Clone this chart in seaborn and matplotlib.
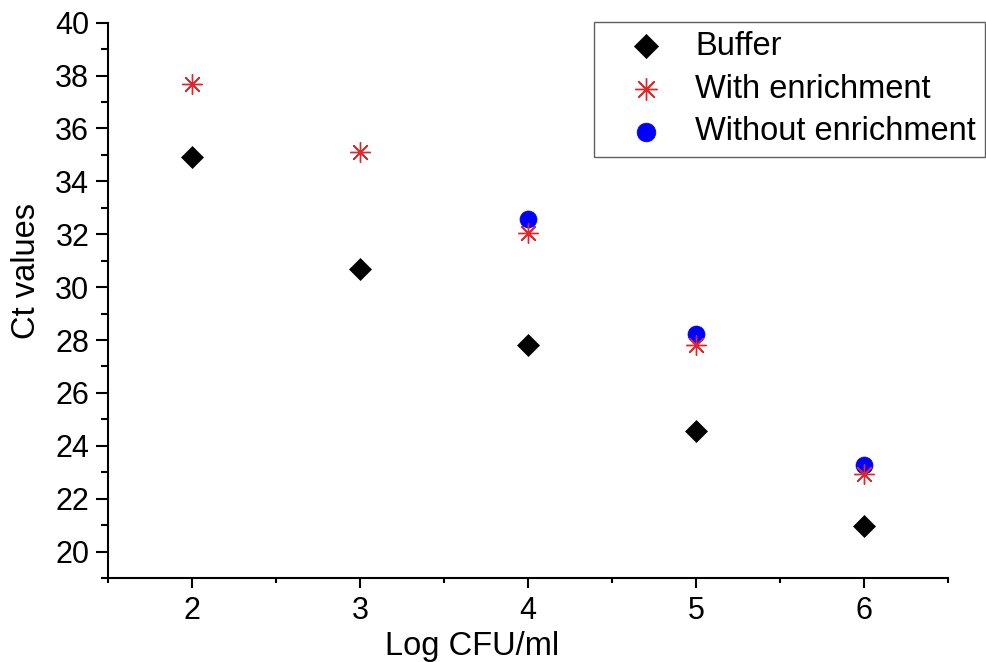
import matplotlib
matplotlib.use("Agg")
import matplotlib.pyplot as plt
from matplotlib.ticker import MultipleLocator
import seaborn as sns
import pandas as pd

# Ct values against bacterial load
log_cfu = [2, 3, 4, 5, 6]
buffer_ct = [34.93, 30.67, 27.83, 24.55, 20.97]
with_enrich_log_cfu = [2, 3, 4, 5, 6]
with_enrich_ct = [37.7, 35.1, 32.03, 27.83, 22.95]
without_enrich_log_cfu = [4, 5, 6]
without_enrich_ct = [32.58, 28.21, 23.28]

sns.set_theme(style="ticks")
plt.rcParams["font.family"] = ["Liberation Sans", "DejaVu Sans"]
plt.rcParams["text.color"] = "black"
plt.rcParams["axes.labelcolor"] = "black"

fig = plt.figure(figsize=(9.87, 6.62), dpi=100)
ax = fig.add_axes([0.1094, 0.1269, 0.8511, 0.8388])

df_buf = pd.DataFrame({"x": log_cfu, "y": buffer_ct})
df_with = pd.DataFrame({"x": with_enrich_log_cfu, "y": with_enrich_ct})
df_without = pd.DataFrame({"x": without_enrich_log_cfu, "y": without_enrich_ct})

sns.scatterplot(data=df_buf, x="x", y="y", ax=ax, marker="D", color="black",
                s=125, edgecolor="black", linewidth=0.5, label="Buffer", zorder=3)
sns.scatterplot(data=df_without, x="x", y="y", ax=ax, marker="o", color="#0000ff",
                s=150, edgecolor="#0000ff", linewidth=0.5, label="Without enrichment", zorder=3)
sns.scatterplot(data=df_with, x="x", y="y", ax=ax, marker=(8, 2, 0), color="#e0262a",
                s=200, linewidth=1.0, label="With enrichment", zorder=4)

ax.set_xlim(1.5, 6.5)
ax.set_ylim(19, 40)
ax.xaxis.set_major_locator(MultipleLocator(1))
ax.xaxis.set_minor_locator(MultipleLocator(0.5))
ax.yaxis.set_major_locator(MultipleLocator(2))
ax.yaxis.set_minor_locator(MultipleLocator(1))
ax.set_yticks(range(20, 41, 2))

for side in ["top", "right"]:
    ax.spines[side].set_visible(False)
for side in ["left", "bottom"]:
    ax.spines[side].set_linewidth(1.5)
    ax.spines[side].set_color("black")

ax.tick_params(axis="both", which="major", direction="out", width=1.5,
               labelsize=22, colors="black")
ax.tick_params(axis="y", which="major", length=8.5, pad=5)
ax.tick_params(axis="x", which="major", length=7, pad=6)
ax.tick_params(axis="y", which="minor", direction="out", length=5, width=1.5, colors="black")
ax.tick_params(axis="x", which="minor", direction="out", length=3.5, width=1.5, colors="black")

ax.set_xlabel("Log CFU/ml", fontsize=23.5)
ax.set_ylabel("Ct values", fontsize=23.5)
ax.xaxis.set_label_coords(0.433, -0.095)
ax.yaxis.set_label_coords(-0.079, 0.553)

handles, labels = ax.get_legend_handles_labels()
order = ["Buffer", "With enrichment", "Without enrichment"]
hmap = dict(zip(labels, handles))
leg = ax.legend([hmap[k] for k in order], order, loc="upper right",
                bbox_to_anchor=(0.998, 0.967), bbox_transform=fig.transFigure,
                fontsize=23.5, frameon=True, fancybox=False, framealpha=1,
                edgecolor="#606060", borderpad=0.28, labelspacing=0.36,
                handlelength=2.6, handletextpad=0.22, borderaxespad=0,
                markerscale=1.1)
leg.get_frame().set_linewidth(1.0)

fig.savefig("out.png", dpi=100)
